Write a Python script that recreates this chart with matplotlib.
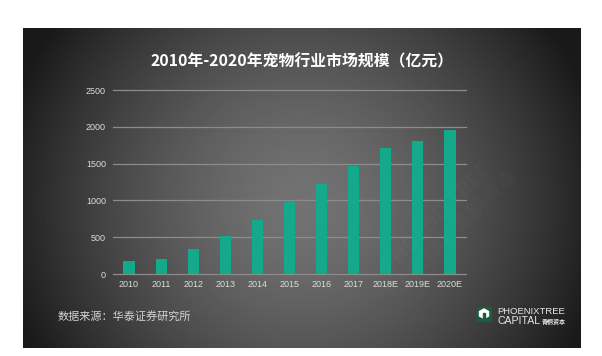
import numpy as np
import matplotlib.pyplot as plt
from matplotlib.patches import Rectangle, Polygon

years = ["2010", "2011", "2012", "2013", "2014", "2015",
         "2016", "2017", "2018E", "2019E", "2020E"]
market_size = [175, 200, 340, 520, 735, 980, 1220, 1465, 1710, 1810, 1960]
y_ticks = [0, 500, 1000, 1500, 2000, 2500]

title = "2010年-2020年宠物行业市场规模（亿元）"
source = "数据来源：华泰证券研究所"

W, H = 602, 356
cjk = ["Noto Sans CJK SC", "DejaVu Sans"]


def fx(px):
    return px / W


def fy(py):
    return 1 - py / H


fig = plt.figure(figsize=(W / 100, H / 100), dpi=100, facecolor="white")

# dark radial gradient panel
bg = fig.add_axes([fx(23), fy(348), fx(581) - fx(23), fy(28) - fy(348)])
X, Y = np.meshgrid(np.linspace(0, 1, 400), np.linspace(0, 1, 240))
r = np.sqrt(((X - 0.5) / 0.55) ** 2 + ((Y - 0.55) / 0.95) ** 2)
shade = 0.45 - 0.35 * np.clip(r, 0, 1) ** 1.5
bg.imshow(shade, cmap="gray", vmin=0, vmax=1, aspect="auto")
bg.axis("off")

# faint watermark
fig.text(fx(445), fy(225), "PHOENIXTREE\nCAPITAL 青桐资本", rotation=45,
         ha="center", va="center", fontsize=15, color="white", alpha=0.025,
         family=cjk, weight="bold")

ax = fig.add_axes([fx(113), fy(274), fx(466) - fx(113), fy(90) - fy(274)])
ax.patch.set_alpha(0)
x = np.arange(len(years))
ax.bar(x, market_size, width=0.35, color="#14a98b", zorder=3)
ax.set_xlim(-0.5, len(years) - 0.5)
ax.set_ylim(0, 2500)
ax.set_yticks(y_ticks)
ax.set_xticks(x)
ax.set_xticklabels(years)
for v in y_ticks:
    ax.axhline(v, color="#8c8c8c", lw=0.9, zorder=1, clip_on=False)
for s in ax.spines.values():
    s.set_visible(False)
ax.tick_params(axis="y", length=0, pad=5, labelsize=6.5, labelcolor="#dcdcdc")
ax.tick_params(axis="x", length=0, pad=4, labelsize=6.5, labelcolor="#dcdcdc")
for lab in ax.get_xticklabels() + ax.get_yticklabels():
    lab.set_family("Liberation Sans")

fig.text(fx(302), fy(61), title, ha="center", va="center", fontsize=11.4,
         weight="bold", color="white", family=cjk)
fig.text(fx(58), fy(316.5), source, ha="left", va="center", fontsize=8,
         color="#d4d4d4", family=cjk)

# logo
fig.patches.append(Rectangle((fx(477), fy(321)), 14 / W, 14 / H,
                             transform=fig.transFigure, color="#1d5c3c"))
cx, cy = 484, 314
icon = [(cx - 4.5, cy - 2.5), (cx, cy - 5), (cx + 4.5, cy - 2.5), (cx + 4.5, cy + 2),
        (cx, cy + 4.5), (cx - 4.5, cy + 2)]
fig.patches.append(Polygon([(fx(a), fy(b)) for a, b in icon], closed=True,
                           transform=fig.transFigure, color="white"))
fig.patches.append(Polygon([(fx(a), fy(b)) for a, b in
                            [(cx - 1, cy - 1), (cx + 1, cy - 1), (cx + 1, cy + 4.5), (cx - 1, cy + 4.5)]],
                           closed=True, transform=fig.transFigure, color="#1d5c3c"))
fig.text(fx(497), fy(312), "PHOENIXTREE", ha="left", va="center",
         fontsize=6.8, color="#e6e6e6", family="Liberation Sans")
fig.text(fx(497), fy(321), "CAPITAL", ha="left", va="center",
         fontsize=7.6, color="#e6e6e6", family="Liberation Sans")
fig.text(fx(542), fy(321.5), "青桐资本", ha="left", va="center",
         fontsize=4.3, color="#e6e6e6", family=cjk, weight="bold")

fig.savefig("out.png", dpi=100)
